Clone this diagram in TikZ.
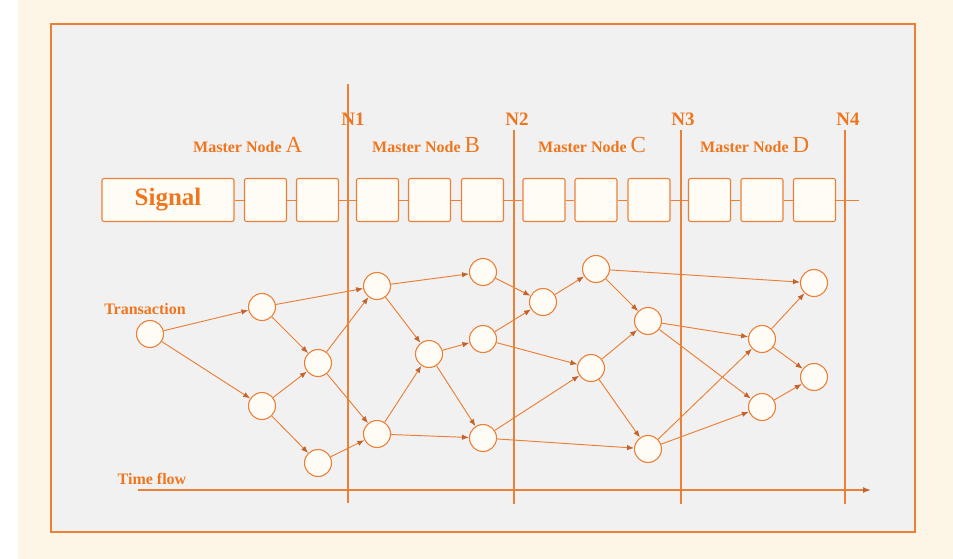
\documentclass[tikz,border=0pt]{standalone}
\usepackage{fontspec}
\setmainfont{Liberation Serif}
\usetikzlibrary{arrows.meta}
\definecolor{org}{RGB}{236,128,55}
\definecolor{orgtxt}{RGB}{240,118,30}
\definecolor{arr}{RGB}{195,100,45}
\definecolor{panel}{RGB}{241,241,241}
\definecolor{cream}{RGB}{253,245,229}
\definecolor{cfill}{RGB}{255,252,246}
\tikzset{
  tx/.style={circle, draw=org, fill=cfill, line width=1.1pt, minimum size=27pt, inner sep=0pt},
  sq/.style={draw=org, fill=cfill, rounded corners=2pt, line width=1.1pt, minimum width=42pt, minimum height=43pt, inner sep=0pt},
  flow/.style={draw=org, line width=0.95pt, -{Latex[length=7pt,width=5.5pt,color=arr]}},
  lbl/.style={text=orgtxt, font=\bfseries\fontsize{16}{16}\selectfont, inner sep=0pt},
  nlbl/.style={text=orgtxt, font=\bfseries\fontsize{19}{19}\selectfont, inner sep=0pt},
  vline/.style={draw=org, line width=1.5pt},
}
\begin{document}
\begin{tikzpicture}[x=1pt,y=-1pt]
\useasboundingbox (0,0) rectangle (953,559);
\fill[white] (0,0) rectangle (953,559);
\fill[cream] (18,0) rectangle (953,559);
\draw[org, line width=1.6pt, fill=panel] (51,24) rectangle (915,532);

% signal chain
\node[sq, minimum width=132pt] (sig) at (168,200) {\bfseries\fontsize{25}{25}\selectfont\color{orgtxt}Signal};
\foreach \i/\x in {1/265.5,2/317.5,3/377.5,4/429.5,5/482.5,6/544,7/596,8/649,9/709.5,10/762,11/814.5}
  \node[sq] (s\i) at (\x,200) {};
\coordinate (send) at (859,200);
\draw[org, line width=1pt] (sig.east) -- (s1.west);
\foreach \a/\b in {1/2,2/3,3/4,4/5,5/6,6/7,7/8,8/9,9/10,10/11}
  \draw[org, line width=1pt] (s\a.east) -- (s\b.west);
\draw[org, line width=1pt] (s11.east) -- (send);

% time lines
\coordinate (n1t) at (348,84);  \coordinate (n1b) at (348,503);
\coordinate (n2t) at (514,130); \coordinate (n2b) at (514,504);
\coordinate (n3t) at (681,130); \coordinate (n3b) at (681,504);
\coordinate (n4t) at (845,130); \coordinate (n4b) at (845,504);
\draw[vline] (n1t) -- (n1b);
\draw[vline] (n2t) -- (n2b);
\draw[vline] (n3t) -- (n3b);
\draw[vline] (n4t) -- (n4b);
\node[nlbl] (N1) at (353,119) {N1};
\node[nlbl] (N2) at (517,119) {N2};
\node[nlbl] (N3) at (683,119) {N3};
\node[nlbl] (N4) at (848,119) {N4};

% master node labels
\node[lbl, anchor=base west] (mA) at (193,153) {Master Node {\mdseries\fontsize{23}{23}\selectfont A}};
\node[lbl, anchor=base west] (mB) at (372,153) {Master Node {\mdseries\fontsize{23}{23}\selectfont B}};
\node[lbl, anchor=base west] (mC) at (538,153) {Master Node {\mdseries\fontsize{23}{23}\selectfont C}};
\node[lbl, anchor=base west] (mD) at (700,153) {Master Node {\mdseries\fontsize{23}{23}\selectfont D}};

% time axis
\coordinate (ts) at (138,490);
\coordinate (te) at (871,490);
\draw[org, line width=1.5pt, -{Latex[length=8pt,width=6pt,color=arr]}] (ts) -- (te);
\node[lbl] (tf) at (152,479) {Time flow};

% transactions
\node[tx] (T) at (150,334) {};
\node[lbl] (tl) at (145,309) {Transaction};
\node[tx] (a1) at (262,307) {};
\node[tx] (a2) at (262,406) {};
\node[tx] (a3) at (318,363) {};
\node[tx] (a4) at (318,463) {};
\node[tx] (b1) at (377,286) {};
\node[tx] (b2) at (377,434) {};
\node[tx] (b3) at (429,354) {};
\node[tx] (b4) at (483,272) {};
\node[tx] (b5) at (483,339) {};
\node[tx] (b6) at (483,438) {};
\node[tx] (c1) at (543,302) {};
\node[tx] (c2) at (596,269) {};
\node[tx] (c3) at (648,321) {};
\node[tx] (c4) at (591,368) {};
\node[tx] (c5) at (648,449) {};
\node[tx] (d1) at (762,339) {};
\node[tx] (d2) at (762,407) {};
\node[tx] (d3) at (814,283) {};
\node[tx] (d4) at (814,377) {};

\foreach \u/\v in {T/a1,T/a2,a1/a3,a2/a3,a2/a4,a1/b1,a3/b1,a3/b2,a4/b2,
  b1/b4,b1/b3,b2/b3,b3/b5,b3/b6,b2/b6,b4/c1,b5/c1,c1/c2,b5/c4,b6/c4,b6/c5,
  c2/c3,c4/c3,c4/c5,c2/d3,c3/d1,c3/d2,c5/d1,c5/d2,d1/d3,d1/d4,d2/d4}
  \draw[flow] (\u) -- (\v);
\end{tikzpicture}
\end{document}
